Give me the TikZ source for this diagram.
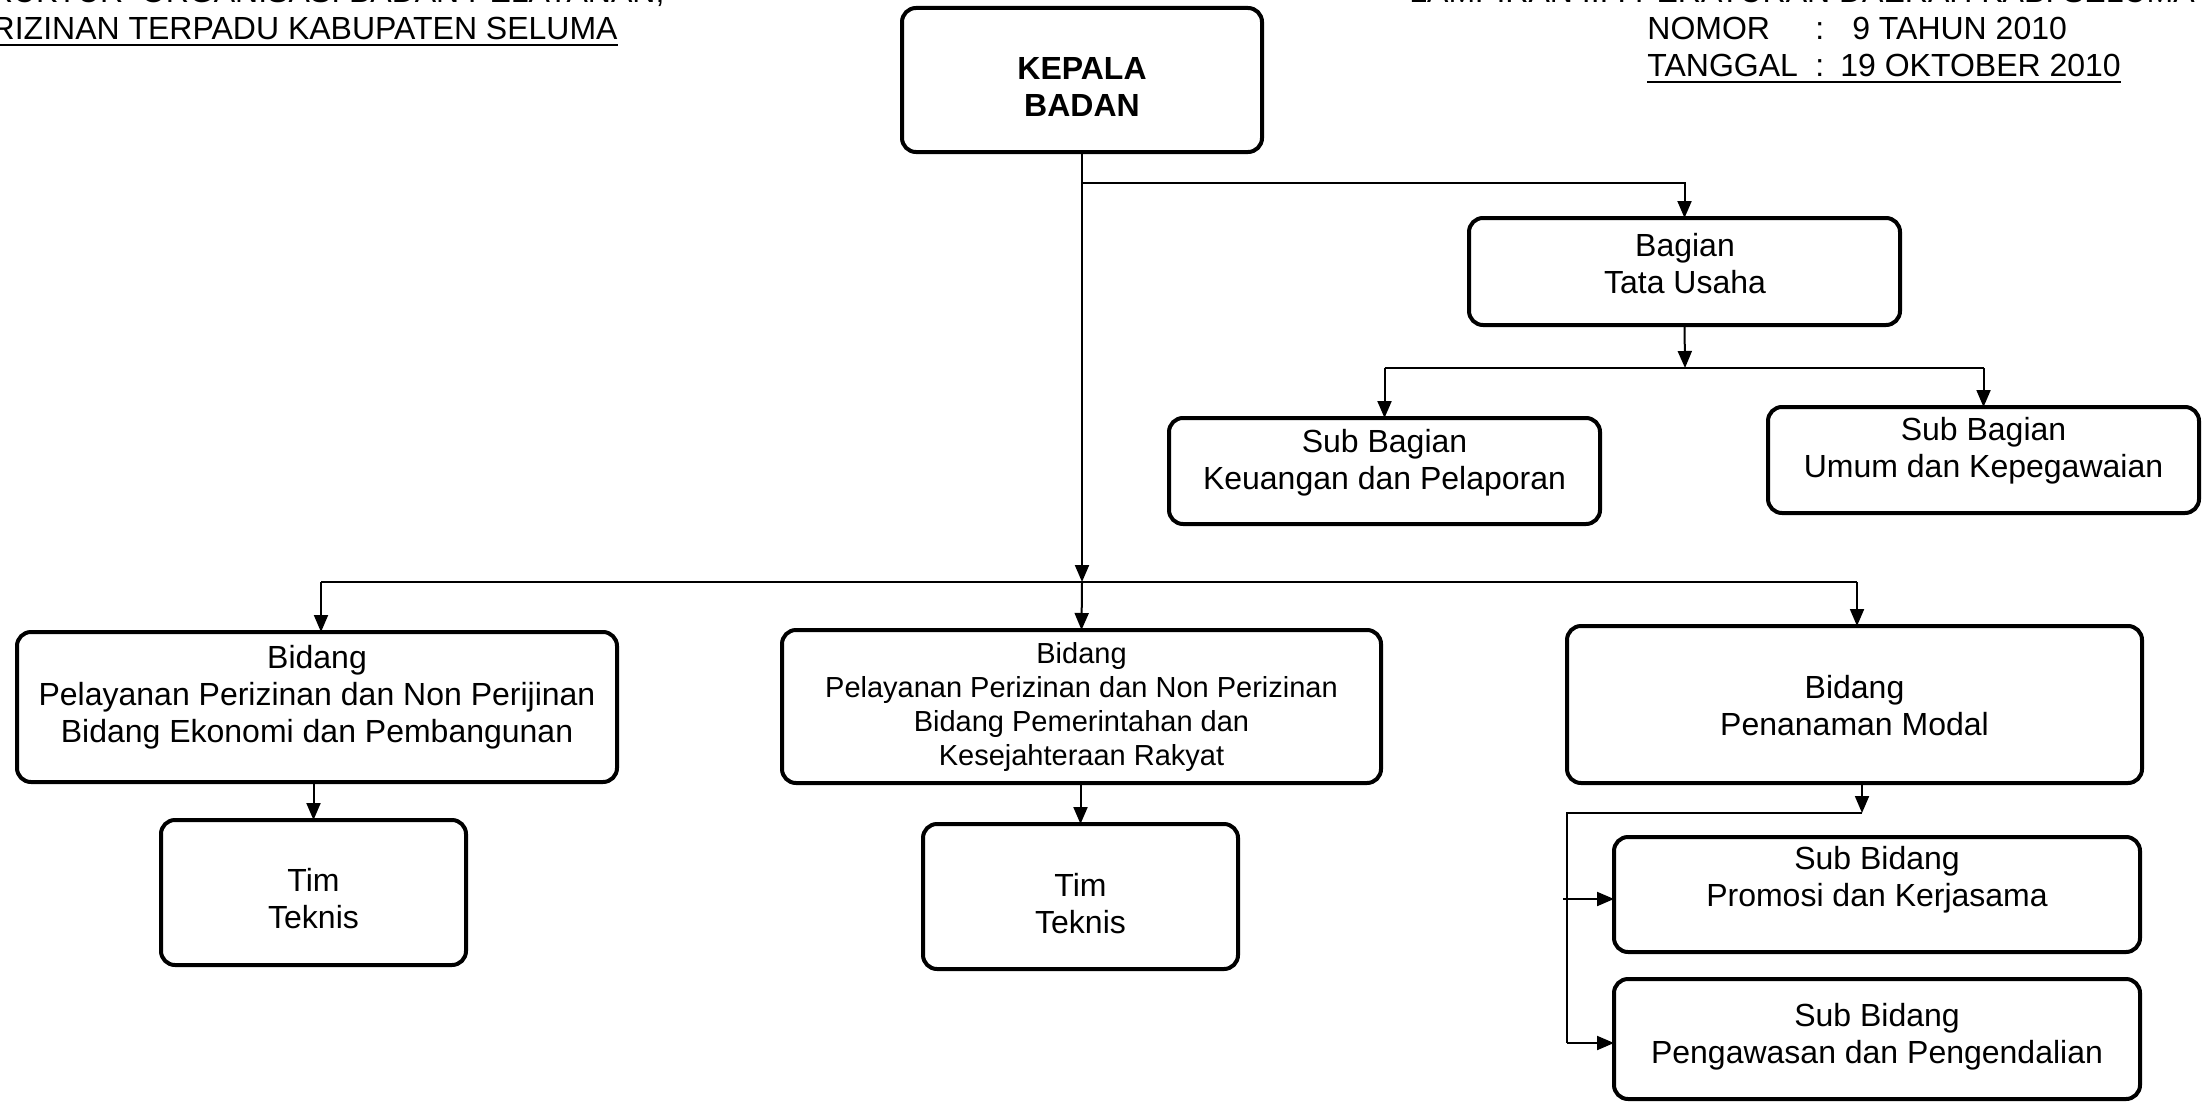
\documentclass[tikz,border=0pt]{standalone}
\usepackage{fontspec}
\setmainfont{Liberation Sans}
\usetikzlibrary{arrows.meta}
\begin{document}
\begin{tikzpicture}[x=0.5pt,y=-0.5pt,
  box/.style={draw, line width=2pt, rounded corners=7pt, inner sep=0pt, outer sep=0pt},
  txt/.style={align=center, inner sep=0pt, font=\fontsize{16}{18.5}\selectfont},
  txtsmall/.style={align=center, inner sep=0pt, font=\fontsize{14.5}{16.9}\selectfont},
  hdr/.style={inner sep=0pt, font=\fontsize{16}{18.5}\selectfont},
  conn/.style={line width=1pt},
  arr/.style={conn, -{Triangle[length=8.5pt,width=7pt]}},
  uline/.style={line width=1.2pt}]
\useasboundingbox (0,0) rectangle (2209,1102);
\fill[white] (0,0) rectangle (2209,1102);

% headers
\node[hdr, anchor=base east] (hl2) at (618,40) {PERIZINAN TERPADU KABUPATEN SELUMA};
\node[hdr, anchor=base west] (hl1) at ([yshift=18.5pt]hl2.base west) {STRUKTUR\ \ ORGANISASI BADAN PELAYANAN,};
\draw[uline] ([yshift=-2.5pt]hl2.base west) -- ([yshift=-2.5pt]hl2.base east);

\node[hdr, anchor=base west] (hr1) at (1409,3) {LAMPIRAN III : PERATURAN DAERAH KAB. SELUMA};
\node[hdr, anchor=base west] (hr2) at (1647,40) {\makebox[84pt][l]{NOMOR}:\hspace{14pt}9 TAHUN 2010};
\node[hdr, anchor=base west] (hr3) at (1647,77) {\makebox[84pt][l]{TANGGAL}:\hspace{8pt}19 OKTOBER 2010};
\draw[uline] ([yshift=-2.5pt]hr3.base west) -- ([yshift=-2.5pt]hr3.base east);

% boxes
\node[box, minimum width=180pt,   minimum height=72pt]   (kb)   at (1082,80) {};
\node[box, minimum width=215.5pt, minimum height=53.5pt] (tu)   at (1684.5,271.5) {};
\node[box, minimum width=215.5pt, minimum height=53pt]   (keu)  at (1384.5,471) {};
\node[box, minimum width=215.5pt, minimum height=53pt]   (umum) at (1983.5,460) {};
\node[box, minimum width=300pt,   minimum height=75pt]   (bl)   at (317,707) {};
\node[box, minimum width=299.5pt, minimum height=76.5pt] (bm)   at (1081.5,706.5) {};
\node[box, minimum width=287.5pt, minimum height=78.5pt] (br)   at (1854.5,704.5) {};
\node[box, minimum width=152.5pt, minimum height=72.5pt] (tl)   at (313.5,892.5) {};
\node[box, minimum width=157.5pt, minimum height=72.5pt] (tm)   at (1080.5,896.5) {};
\node[box, minimum width=263pt,   minimum height=57.5pt] (pro)  at (1877,894.5) {};
\node[box, minimum width=263pt,   minimum height=60pt]   (pen)  at (1877,1039) {};

% texts
\node[txt, font=\fontsize{16}{18.5}\selectfont\bfseries] (tkb) at (1082,87) {KEPALA\\BADAN};
\node[txt] (ttu)   at (1685,264) {Bagian\\Tata Usaha};
\node[txt] (tkeu)  at (1384.5,463) {Sub Bagian\\Keuangan dan Pelaporan};
\node[txt] (tumum) at (1983.5,451) {Sub Bagian\\Umum dan Kepegawaian};
\node[txt] (tbl)   at (317,697) {Bidang\\Pelayanan Perizinan dan Non Perijinan\\Bidang Ekonomi dan Pembangunan};
\node[txtsmall] (tbm) at (1081.5,707) {Bidang\\Pelayanan Perizinan dan Non Perizinan\\Bidang Pemerintahan dan\\Kesejahteraan Rakyat};
\node[txt] (tbr)   at (1854.5,706) {Bidang\\Penanaman Modal};
\node[txt] (ttl)   at (313.5,899) {Tim\\Teknis};
\node[txt] (ttm)   at (1080.5,904) {Tim\\Teknis};
\node[txt] (tpro)  at (1877,880) {Sub Bidang\\Promosi dan Kerjasama};
\node[txt] (tpen)  at (1877,1037) {Sub Bidang\\Pengawasan dan Pengendalian};

% connectors
\coordinate (busj) at (1082,582);
\coordinate (busL) at (321,582);
\coordinate (busR) at (1857,582);
\coordinate (tuj)  at (1082,183);
\coordinate (subj) at (1685,368);
\coordinate (prj)  at (1862,813);
\coordinate (prl)  at (1567,813);
\coordinate (pel)  at (1567,1043);
\coordinate (pra)  at (1563,899);

\draw[arr] (kb.south) -- (busj);
\draw[arr] (busj) -- (bm.north);
\draw[conn] (busL) -- (busR);
\draw[arr] (busL) -- (busL |- bl.north);
\draw[arr] (busR) -- (busR |- br.north);

\draw[arr] (tuj) -| (tu.north);
\draw[arr] (tu.south) -- (subj);
\draw[conn] (keu.north |- subj) -- (umum.north |- subj);
\draw[arr] (keu.north |- subj) -- (keu.north);
\draw[arr] (umum.north |- subj) -- (umum.north);

\draw[arr] (tl.north |- bl.south) -- (tl.north);
\draw[arr] (tm.north |- bm.south) -- (tm.north);

\draw[arr] (prj |- br.south) -- (prj);
\draw[conn] (prj) -- (prl) -- (pel);
\draw[arr] (pra) -- (pra -| pro.west);
\draw[arr] (pel) -- (pel -| pen.west);
\end{tikzpicture}
\end{document}
